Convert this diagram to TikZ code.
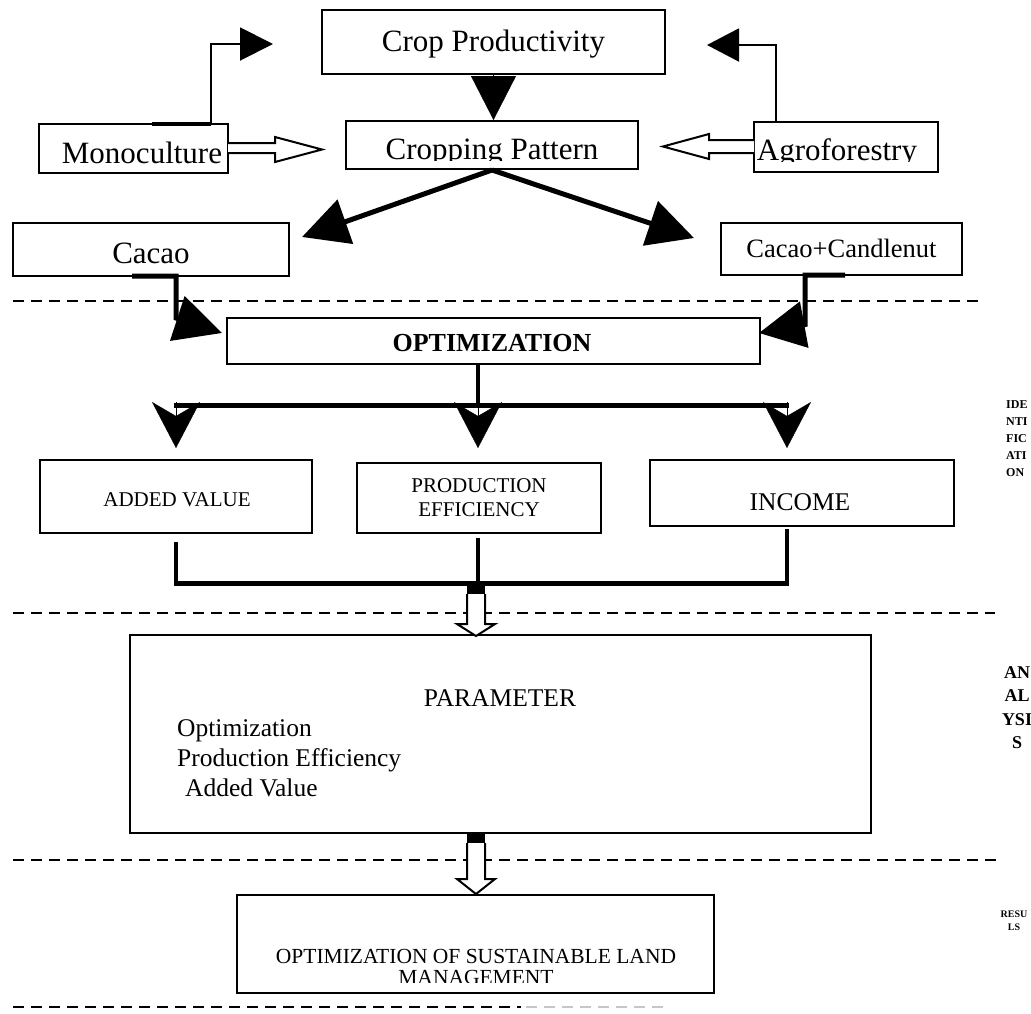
\documentclass[tikz,border=0pt]{standalone}
\usepackage{fontspec}
\setmainfont{Liberation Serif}
\usetikzlibrary{arrows.meta}
\tikzset{
  box/.style={draw, line width=2pt, inner sep=0pt, fill=white},
  txt/.style={inner sep=0pt, anchor=base},
  big/.style={font=\fontsize{31}{37}\selectfont},
  mid/.style={font=\fontsize{25.5}{30}\selectfont},
  sml/.style={font=\fontsize{21}{24}\selectfont},
  thinline/.style={line width=2pt},
  heavy/.style={line width=5pt},
  medline/.style={line width=4pt},
  dline/.style={line width=2pt, dash pattern=on 11pt off 7pt},
  hollow/.style={line width=2pt, fill=white, line join=miter},
  bigtri/.style={-{Triangle[length=46pt,width=46pt]}},
  branch/.style={-{Stealth[length=46pt,width=48pt,inset=14pt]}},
}
\begin{document}
\begin{tikzpicture}[x=1pt,y=-1pt]
\fill[white] (0,0) rectangle (1031,1013);
\useasboundingbox (0,0) rectangle (1031,1013);

% dashed separators
\draw[dline] (13,301) -- (985,301);
\draw[dline] (13,613) -- (995,613);
\draw[dline] (13,860) -- (1000,860);
\draw[dline] (13,1007) -- (521,1007);
\draw[dline, gray!45] (526,1007) -- (665,1007);

% boxes
\node[box, minimum width=343pt, minimum height=64pt] (crop) at (493.5,42) {};
\node[box, minimum width=292pt, minimum height=48pt] (pat) at (492,145) {};
\node[box, minimum width=189pt, minimum height=49pt] (mono) at (133.5,148.5) {};
\node[box, minimum width=184pt, minimum height=50pt] (agro) at (846,147) {};
\node[box, minimum width=276pt, minimum height=53pt] (cacao) at (151,249.5) {};
\node[box, minimum width=241pt, minimum height=52pt] (cand) at (841.5,249) {};
\node[box, minimum width=533pt, minimum height=46pt] (opt) at (493.5,341) {};
\node[box, minimum width=272pt, minimum height=73pt] (added) at (176,496.5) {};
\node[box, minimum width=244pt, minimum height=70pt] (prod) at (479,498) {};
\node[box, minimum width=304pt, minimum height=66pt] (income) at (802,493) {};
\node[box, minimum width=741pt, minimum height=198pt] (param) at (500.5,734) {};
\node[box, minimum width=477pt, minimum height=98pt] (final) at (475.5,944) {};

% texts
\node[txt,big] (cropT) at (493.5,51) {Crop Productivity};
\begin{scope}
  \clip (346,121) rectangle (638,160);
  \node[txt,big] (patT) at (492,159) {Cropping Pattern};
\end{scope}
\node[txt,big] (monoT) at (142,163) {Monoculture};
\begin{scope}
  \clip (754,122) rectangle (938,161.5);
  \node[txt,big] (agroT) at (837,160) {Agroforestry};
\end{scope}
\node[txt,big] (cacaoT) at (151,263) {Cacao};
\node[txt,font=\fontsize{26.5}{30}\selectfont] (candT) at (841.5,257) {Cacao+Candlenut};
\node[txt,font=\bfseries\fontsize{26}{30}\selectfont] (optT) at (492,351.5) {OPTIMIZATION};
\node[txt,sml] (addedT) at (177,506.5) {ADDED VALUE};
\node[txt,sml] (prodT1) at (479,492.5) {PRODUCTION};
\node[txt,sml] (prodT2) at (479,516.5) {EFFICIENCY};
\node[txt,font=\fontsize{25.5}{30}\selectfont] (incomeT) at (800,510.5) {INCOME};
\node[txt,mid] (paramT) at (500,706.5) {PARAMETER};
\node[txt,mid,anchor=base west] (p1) at (177,736.5) {Optimization};
\node[txt,mid,anchor=base west] (p2) at (177,766.5) {Production Efficiency};
\node[txt,mid,anchor=base west] (p3) at (185,796.5) {Added Value};
\node[txt,font=\fontsize{21.5}{25}\selectfont] (finT1) at (476,963) {OPTIMIZATION OF SUSTAINABLE LAND};
\begin{scope}
  \clip (237,895) rectangle (714,982.5);
  \node[txt,font=\fontsize{21.5}{25}\selectfont] (finT2) at (476,984) {MANAGEMENT};
\end{scope}

% side labels
\node[inner sep=0pt, anchor=north west, align=left, font=\bfseries\fontsize{12}{17}\selectfont] (ident) at (1006,400) {IDE\\NTI\\FIC\\ATI\\ON};
\node[inner sep=0pt, anchor=north, align=center, font=\bfseries\fontsize{18}{23.5}\selectfont] (anal) at (1017,666) {AN\\AL\\YSI\\S};
\node[inner sep=0pt, anchor=north, align=center, font=\bfseries\fontsize{10}{13}\selectfont] (res) at (1014,911) {RESU\\LS};

% connector coordinates
\coordinate (monoUp) at (211,124);
\coordinate (monoTip) at (273,44);
\coordinate (agroUp) at (776,122);
\coordinate (agroTip) at (707,45);
\coordinate (cacaoTip) at (302,237);
\coordinate (candTip) at (694,238);
\coordinate (cacaoOptTip) at (222,333);
\coordinate (candOptTip) at (759,333);
\coordinate (optDown) at (478,364);
\coordinate (barL) at (176,405);
\coordinate (barM) at (478,405);
\coordinate (barR) at (787,405);

% crop -> pattern
\draw[-{Triangle[length=44pt,width=45pt]}] (crop.south) -- (crop.south |- pat.north);

% monoculture / agroforestry -> crop productivity
\draw[medline] (152,124) -- (monoUp);
\draw[thinline, -{Triangle[length=33pt,width=33pt]}] (monoUp) -- (monoUp |- monoTip) -- (monoTip);
\draw[thinline, -{Triangle[length=32pt,width=33pt]}] (agroUp) -- (agroUp |- agroTip) -- (agroTip);

% hollow arrows into cropping pattern
\draw[hollow] (228,143) -- (275,143) -- (275,137) -- (322,149.5) -- (275,162) -- (275,153) -- (228,153);
\draw[hollow] (754,140) -- (709,140) -- (709,134) -- (663,146.5) -- (709,159) -- (709,153) -- (754,153);

% pattern -> cacao / candlenut
\draw[heavy, bigtri] (pat.south) -- (cacaoTip);
\draw[heavy, bigtri] (pat.south) -- (candTip);

% cacao / candlenut -> optimization
\draw[heavy, -{Triangle[length=47pt,width=46pt]}] (132,276) -- (176,276) -- (176,318) -- (cacaoOptTip);
\draw[heavy, -{Triangle[length=46pt,width=46pt]}] (845,275) -- (805,275) -- (805,324.5) -- (candOptTip);

% optimization -> three results
\draw[medline] (optDown) -- (barM);
\draw[heavy] (174,405) -- (789,405);
\draw[branch] (176,402) -- (added.north |- 0,448);
\draw[branch] (478,402) -- (478,448);
\draw[branch] (787,402) -- (787,448);

% three results -> collector
\draw[medline] (176,542) -- (176,583);
\draw[medline] (478,538) -- (478,583);
\draw[medline] (787,529) -- (787,583);
\draw[heavy] (174,583) -- (789,583);

% hollow arrow to parameter
\fill (467,586) rectangle (485,594);
\draw[hollow] (467,594) -- (467,624) -- (457,624) -- (476,636) -- (495,624) -- (485,624) -- (485,594);

% hollow arrow to final
\fill (467,834) rectangle (485,843);
\draw[hollow] (467,843) -- (467,879) -- (457,879) -- (476,894) -- (495,879) -- (485,879) -- (485,843);
\end{tikzpicture}
\end{document}
